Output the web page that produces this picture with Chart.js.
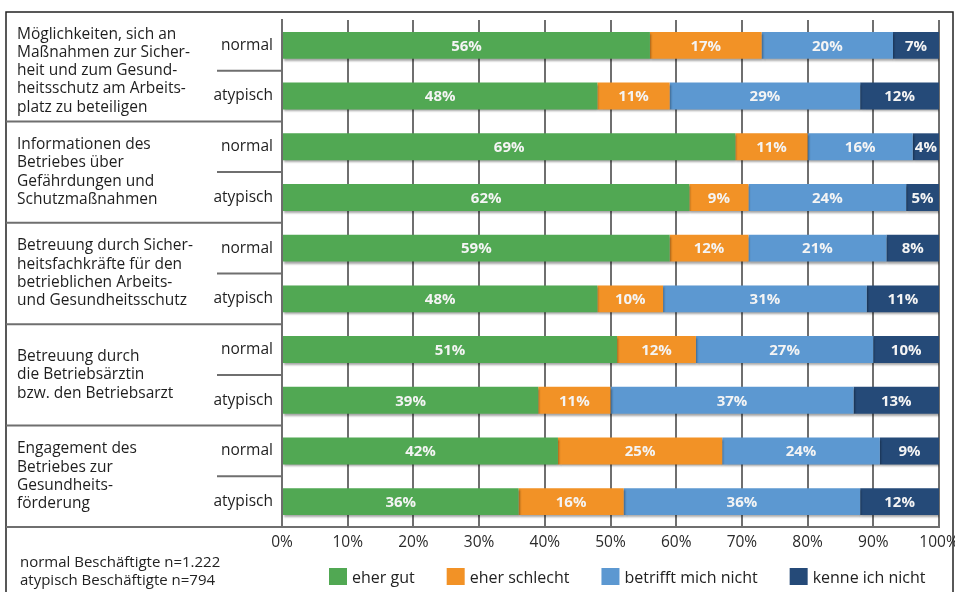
<!DOCTYPE html>
<html>
<head>
<meta charset="utf-8">
<script src="https://cdn.jsdelivr.net/npm/chart.js@4"></script>
<style>
  body { margin: 0; background: #fff; }
  #wrap { width: 955px; height: 592px; position: relative; }
</style>
</head>
<body>
<div id="wrap"><canvas id="myChart"></canvas></div>
<script>
// rows: normal / atypisch per question
var rowLabels = ["normal", "atypisch", "normal", "atypisch", "normal", "atypisch", "normal", "atypisch", "normal", "atypisch"];

var groupTitles = [
  ["Möglichkeiten, sich an", "Maßnahmen zur Sicher-", "heit und zum Gesund-", "heitsschutz am Arbeits-", "platz zu beteiligen"],
  ["Informationen des", "Betriebes über", "Gefährdungen und", "Schutzmaßnahmen"],
  ["Betreuung durch Sicher-", "heitsfachkräfte für den", "betrieblichen Arbeits-", "und Gesundheitsschutz"],
  ["Betreuung durch", "die Betriebsärztin", "bzw. den Betriebsarzt"],
  ["Engagement des", "Betriebes zur", "Gesundheits-", "förderung"]
];

var seriesNames = ["eher gut", "eher schlecht", "betrifft mich nicht", "kenne ich nicht"];
var eherGut      = [56, 48, 69, 62, 59, 48, 51, 39, 42, 36];
var eherSchlecht = [17, 11, 11,  9, 12, 10, 12, 11, 25, 16];
var betrifftNicht = [20, 29, 16, 24, 21, 31, 27, 37, 24, 36];
var kenneNicht   = [ 7, 12,  4,  5,  8, 11, 10, 13,  9, 12];
var seriesColors = ["#51a853", "#f29226", "#5c98d1", "#254a78"];

var xTicks = [0, 10, 20, 30, 40, 50, 60, 70, 80, 90, 100];
var footnotes = ["normal Beschäftigte n=1.222", "atypisch Beschäftigte n=794"];

var FONT = "'Open Sans', 'Noto Sans', sans-serif";
var LINE = "#6f6f6f";

var seriesData = [eherGut, eherSchlecht, betrifftNicht, kenneNicht];

var decorPlugin = {
  id: "decor",
  beforeDatasetsDraw(chart) {
    var ctx = chart.ctx;
    ctx.save();
    ctx.shadowColor = "rgba(0,0,0,0.35)";
    ctx.shadowOffsetX = 1;
    ctx.shadowOffsetY = 2;
    ctx.shadowBlur = 2;
  },
  afterDatasetsDraw(chart) {
    var ctx = chart.ctx;
    ctx.restore();
    // value labels inside bars
    ctx.save();
    ctx.font = "bold 15px " + FONT;
    ctx.fillStyle = "#f4f4f4";
    ctx.textAlign = "center";
    ctx.textBaseline = "middle";
    chart.data.datasets.forEach((ds, di) => {
      var meta = chart.getDatasetMeta(di);
      meta.data.forEach((el, i) => {
        var cx = (el.x + el.base) / 2;
        ctx.fillText(ds.data[i] + "%", cx, el.y + 1);
      });
    });
    ctx.restore();
  },
  afterDraw(chart) {
    var ctx = chart.ctx;
    var y = chart.scales.y;
    var area = chart.chartArea;
    ctx.save();

    // outer frame
    ctx.strokeStyle = "#222";
    ctx.lineWidth = 1.5;
    ctx.strokeRect(6, 12, 947, 600);

    // separators
    ctx.strokeStyle = LINE;
    ctx.lineWidth = 2;
    for (var g = 0; g < groupTitles.length; g++) {
      var yn = y.getPixelForValue(g * 2);
      var ya = y.getPixelForValue(g * 2 + 1);
      var mid = (yn + ya) / 2;
      ctx.beginPath();
      ctx.moveTo(217, mid);
      ctx.lineTo(area.left, mid);
      ctx.stroke();
      var sep = ya + (ya - yn) / 2;
      ctx.beginPath();
      ctx.moveTo(6, sep);
      ctx.lineTo(g === groupTitles.length - 1 ? area.right : area.left, sep);
      ctx.stroke();
    }

    // group titles
    ctx.fillStyle = "#1e1e1e";
    ctx.textAlign = "left";
    ctx.textBaseline = "middle";
    ctx.font = "15.5px " + FONT;
    var lh = 18.3;
    groupTitles.forEach((lines, g) => {
      var cy = (y.getPixelForValue(g * 2) + y.getPixelForValue(g * 2 + 1)) / 2;
      var top = cy - (lines.length - 1) * lh / 2;
      lines.forEach((t, k) => ctx.fillText(t, 17, top + k * lh));
    });

    // footnote
    ctx.font = "15px " + FONT;
    ctx.fillStyle = "#222";
    footnotes.forEach((t, k) => ctx.fillText(t, 20, 563 + k * 17.5));

    // legend
    var lx = 329;
    ctx.font = "16px " + FONT;
    seriesNames.forEach((name, i) => {
      ctx.fillStyle = seriesColors[i];
      ctx.fillRect(lx, 568, 18, 17);
      ctx.fillStyle = "#222";
      ctx.fillText(name, lx + 23, 578);
      lx += 23 + ctx.measureText(name).width + 32;
    });
    ctx.restore();
  }
};

var chartOptions = {
  type: "bar",
  data: {
    labels: rowLabels,
    datasets: seriesNames.map((name, i) => ({
      label: name,
      data: seriesData[i],
      backgroundColor: seriesColors[i],
      borderWidth: 0,
      barPercentage: 0.53,
      categoryPercentage: 1
    }))
  },
  options: {
    indexAxis: "y",
    responsive: true,
    maintainAspectRatio: false,
    animation: false,
    layout: { padding: { top: 20, right: 16, left: 0, bottom: 0 } },
    plugins: {
      legend: { display: false },
      tooltip: { enabled: false },
      title: { display: false }
    },
    scales: {
      x: {
        stacked: true,
        min: 0,
        max: 100,
        afterFit(scale) {
          scale.height = 65;
          scale.paddingLeft = 0;
          scale.paddingRight = 0;
        },
        afterBuildTicks(scale) { scale.ticks = xTicks.map(v => ({ value: v })); },
        grid: { color: LINE, lineWidth: 2, drawTicks: false },
        border: { display: true, color: LINE, width: 2 },
        ticks: {
          padding: 6,
          color: "#2a2a2a",
          font: { family: FONT, size: 15.5 },
          callback: v => v + "%"
        }
      },
      y: {
        stacked: true,
        afterFit(scale) { scale.width = 282; },
        grid: { display: false, drawTicks: false },
        border: { display: true, color: LINE, width: 2 },
        ticks: {
          padding: 9,
          color: "#1e1e1e",
          font: { family: FONT, size: 15.5 }
        }
      }
    }
  },
  plugins: [decorPlugin]
};

const ctx = document.getElementById("myChart");
new Chart(ctx, chartOptions);
</script>
</body>
</html>
